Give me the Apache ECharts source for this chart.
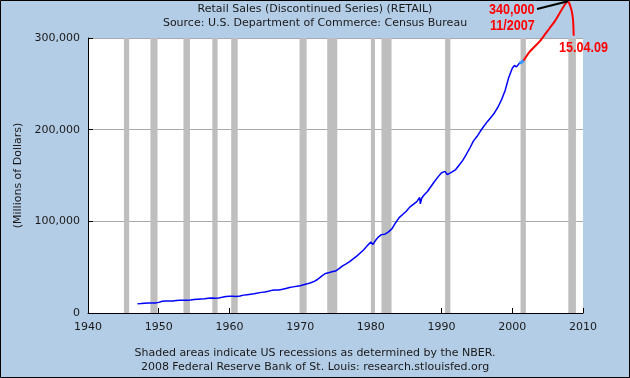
<!DOCTYPE html>
<html><head><meta charset="utf-8">
<script src="https://cdn.jsdelivr.net/npm/echarts@6/dist/echarts.min.js"></script>
<style>html,body{margin:0;padding:0;background:#b4cde6}#c{width:630px;height:378px}</style>
</head><body><div id="c"></div>
<script>
// Retail sales (millions of dollars) (decimal year, value)
var years = [1947.0,1947.5,1948.0,1948.5,1949.0,1949.5,1950.0,1950.5,1951.0,1951.5,1952.0,1952.5,1953.0,1953.5,1954.0,1954.5,1955.0,1955.5,1956.0,1956.5,1957.0,1957.5,1958.0,1958.5,1959.0,1959.5,1960.0,1960.5,1961.0,1961.5,1962.0,1962.5,1963.0,1963.5,1964.0,1964.5,1965.0,1965.5,1966.0,1966.5,1967.0,1967.5,1968.0,1968.5,1969.0,1969.5,1970.0,1970.5,1971.0,1971.5,1972.0,1972.5,1973.0,1973.5,1974.0,1974.5,1975.0,1975.5,1976.0,1976.5,1977.0,1977.5,1978.0,1978.5,1979.0,1979.5,1980.0,1980.3,1980.6,1981.0,1981.5,1982.0,1982.5,1983.0,1983.5,1984.0,1984.5,1985.0,1985.5,1986.0,1986.5,1986.9,1987.0,1987.2,1987.5,1988.0,1988.5,1989.0,1989.5,1990.0,1990.5,1990.8,1991.0,1991.5,1992.0,1992.5,1993.0,1993.5,1994.0,1994.5,1995.0,1995.5,1996.0,1996.5,1997.0,1997.5,1998.0,1998.5,1999.0,1999.5,2000.0,2000.3,2000.6,2001.0,2001.3,2001.6];
var sales = [10100,10300,10600,10900,10800,10800,11600,12800,13200,13000,13200,13600,14000,14000,13900,14100,14800,15100,15300,15500,16100,16300,16100,16400,17300,18100,18300,18200,18000,18500,19500,20000,20500,21000,21700,22500,23000,23800,24700,25000,25000,25800,26800,27800,28500,29100,29800,30800,31800,33000,34500,36800,40000,42800,43800,45000,45800,48500,51500,53500,56000,59000,62000,65500,69000,73500,77500,74800,78500,82500,85500,86000,88500,92000,98500,104000,107500,111000,115500,118500,121500,126000,119000,125500,128500,132500,138000,143500,148500,153000,154500,151000,150500,154000,156500,161500,166500,173000,180000,187500,192500,198500,204000,209000,213500,218500,225000,233000,243000,257000,267000,270000,268500,272500,273500,275500];

// NBER recessions (decimal years)
var recStart = [1945.08,1948.83,1953.5,1957.58,1960.25,1969.92,1973.83,1980.0,1981.5,1990.5,2001.17,2007.92];
var recEnd   = [1945.83,1949.83,1954.42,1958.33,1961.17,1970.92,1975.25,1980.58,1982.92,1991.25,2001.92,2009.0];

// Hand-drawn annotation (decimal year, value)
var noteRedX = [2001.6,2002.47,2003.88,2004.59,2005.30,2006.0,2006.71,2007.42,2007.88,2008.36,2008.59,2008.69];
var noteRedY = [275500,285100,296300,303600,310900,318100,327300,336300,340000,330900,319900,302400];
var noteBlackX = [2003.5,2007.88];
var noteBlackY = [331700,340000];

var xTicks = {min:1940, max:2010, step:10};
var yTicks = {min:0, max:300000, step:100000};

function pairs(a,b){return a.map(function(v,i){return [v,b[i]];});}
var mainData = pairs(years, sales);
var n = mainData.length;

var chart = echarts.init(document.getElementById('c'), null, {renderer:'canvas'});
var txt = '#1a1a1a';
var font = 'DejaVu Sans';
var redFont = 'bold 15px "Liberation Sans", Arial, sans-serif';
chart.setOption({
  backgroundColor:'#b4cde6',
  animation:false,
  grid:{left:88, right:47, top:38, bottom:65, show:true, backgroundColor:'#ffffff', borderWidth:0, containLabel:false},
  xAxis:{type:'value', min:xTicks.min, max:xTicks.max, interval:xTicks.step,
    axisLine:{onZero:false, lineStyle:{color:'#000', width:1}},
    axisTick:{inside:true, length:5, lineStyle:{color:'#000'}},
    axisLabel:{color:txt, fontFamily:font, fontSize:11, margin:9, formatter:function(v){return String(v);}},
    splitLine:{show:false}},
  yAxis:{type:'value', min:yTicks.min, max:yTicks.max, interval:yTicks.step,
    name:'(Millions of Dollars)', nameLocation:'middle', nameGap:53,
    nameTextStyle:{color:txt, fontFamily:font, fontSize:11},
    axisLine:{show:true, lineStyle:{color:'#000', width:1}},
    axisTick:{show:true, inside:true, length:5, lineStyle:{color:'#000'}},
    axisLabel:{color:txt, fontFamily:font, fontSize:11, margin:8, formatter:function(v){return v.toLocaleString('en-US');}},
    splitLine:{show:true, lineStyle:{color:'#aaaaaa', width:1}}},
  series:[
    {type:'line', data:mainData, showSymbol:false, symbol:'none', lineStyle:{color:'#0000ff', width:1.5}, z:3,
     markArea:{silent:true, itemStyle:{color:'#bebebe', opacity:1},
       data:recStart.map(function(s,i){return [{xAxis:s},{xAxis:recEnd[i]}];})}},
    {type:'line', data:mainData.slice(n-3), showSymbol:false, symbol:'none', lineStyle:{color:'#3399ff', width:3}, z:4},
    {type:'line', data:pairs(noteRedX,noteRedY), smooth:0.15, clip:false, showSymbol:false, symbol:'none', lineStyle:{color:'#ff0000', width:2}, z:5},
    {type:'line', data:pairs(noteBlackX,noteBlackY), clip:false, showSymbol:false, symbol:'none', lineStyle:{color:'#000000', width:2}, z:5}
  ],
  graphic:[
    {type:'text', left:'center', top:4, style:{text:'Retail Sales (Discontinued Series) (RETAIL)', fill:txt, font:'11px "DejaVu Sans"'}},
    {type:'text', left:'center', top:18, style:{text:'Source: U.S. Department of Commerce: Census Bureau', fill:txt, font:'11px "DejaVu Sans"'}},
    {type:'text', left:'center', top:348, style:{text:'Shaded areas indicate US recessions as determined by the NBER.', fill:txt, font:'11px "DejaVu Sans"'}},
    {type:'text', left:'center', top:362, style:{text:'2008 Federal Reserve Bank of St. Louis: research.stlouisfed.org', fill:txt, font:'11px "DejaVu Sans"'}},
    {type:'text', x:489, y:10, scaleX:0.84, z:10, style:{text:'340,000', fill:'#ff0000', font:redFont, verticalAlign:'middle'}},
    {type:'text', x:490, y:26, scaleX:0.84, z:10, style:{text:'11/2007', fill:'#ff0000', font:redFont, verticalAlign:'middle'}},
    {type:'text', x:559, y:48, scaleX:0.84, z:10, style:{text:'15.04.09', fill:'#ff0000', font:redFont, verticalAlign:'middle'}},
    {type:'rect', shape:{x:0.5,y:0.5,width:629,height:377}, style:{fill:'none', stroke:'#000', lineWidth:1}, z:100}
  ]
});
</script></body></html>
